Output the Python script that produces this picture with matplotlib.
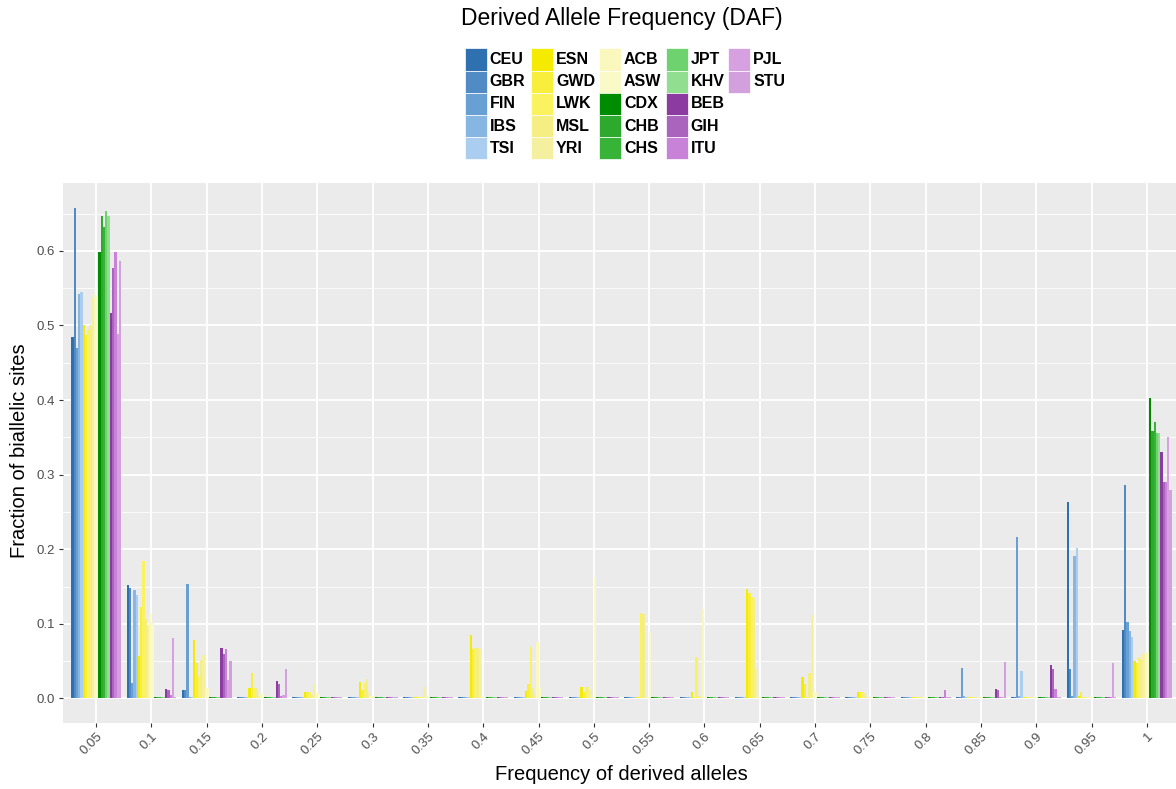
import matplotlib
matplotlib.use("Agg")
import matplotlib.pyplot as plt
from matplotlib.patches import Rectangle
from matplotlib.ticker import MultipleLocator, FormatStrFormatter
import numpy as np

plt.rcParams['font.family'] = ['Liberation Sans', 'DejaVu Sans']

# frequency bins on the x axis
bins = ["0.05", "0.1", "0.15", "0.2", "0.25", "0.3", "0.35", "0.4", "0.45", "0.5",
        "0.55", "0.6", "0.65", "0.7", "0.75", "0.8", "0.85", "0.9", "0.95", "1"]

z = 0.0015  # near-zero bars that still show as a thin line

# fraction of biallelic sites per bin, one list per population
CEU = [0.485, 0.152, 0.011, z, z, z, z, z, z, z, z, z, z, z, z, z, z, z, 0.263, 0.092]
GBR = [0.658, 0.148, 0.011, z, z, z, z, z, z, z, z, z, z, z, z, z, z, z, 0.040, 0.286]
FIN = [0.470, 0.021, 0.153, z, z, z, z, z, z, z, z, z, z, z, z, z, 0.041, 0.216, 0.003, 0.103]
IBS = [0.542, 0.145, z, z, z, z, z, z, z, z, z, z, z, z, z, z, 0.003, 0.003, 0.191, 0.090]
TSI = [0.545, 0.139, z, z, z, z, z, z, z, z, z, z, z, z, z, z, z, 0.037, 0.201, 0.083]
ESN = [0.501, 0.057, 0.078, 0.014, 0.008, 0.022, z, 0.085, 0.010, 0.015, z, 0.008, 0.147, 0.029, 0.008, z, z, z, 0.003, 0.050]
GWD = [0.487, 0.122, 0.048, 0.034, 0.008, 0.012, z, 0.066, 0.020, 0.008, z, z, 0.142, 0.020, 0.008, z, z, z, 0.008, 0.047]
LWK = [0.494, 0.184, 0.030, 0.014, 0.008, 0.021, z, 0.068, 0.069, 0.015, 0.115, 0.055, 0.136, z, 0.008, z, z, z, 0.002, 0.055]
MSL = [0.501, 0.106, 0.052, 0.014, 0.005, 0.026, z, 0.067, 0.014, 0.015, 0.113, 0.003, 0.134, 0.034, 0.007, z, z, z, z, 0.053]
YRI = [0.537, 0.099, 0.058, 0.003, 0.020, 0.008, 0.015, 0.066, 0.004, 0.012, z, 0.003, 0.040, 0.112, z, z, z, z, z, 0.060]
ACB = [0.542, 0.115, 0.014, 0.007, 0.008, 0.003, 0.005, z, 0.076, z, z, 0.120, z, 0.008, z, z, z, z, z, 0.062]
ASW = [0.540, 0.101, 0.014, 0.007, 0.006, z, z, z, 0.014, 0.163, 0.089, z, z, 0.008, z, z, z, z, z, 0.062]
CDX = [0.598, z, z, z, z, z, z, z, z, z, z, z, z, z, z, z, z, z, z, 0.403]
CHB = [0.647, z, z, z, z, z, z, z, z, z, z, z, z, z, z, z, z, z, z, 0.358]
CHS = [0.632, z, z, z, z, z, z, z, z, z, z, z, z, z, z, z, z, z, z, 0.370]
JPT = [0.654, z, z, z, z, z, z, z, z, z, z, z, z, z, z, z, z, z, z, 0.356]
KHV = [0.647, z, z, z, z, z, z, z, z, z, z, z, z, z, z, z, z, z, z, 0.356]
BEB = [0.517, 0.013, 0.067, 0.024, z, z, z, z, z, z, z, z, z, z, z, z, 0.013, 0.045, z, 0.331]
GIH = [0.577, 0.011, 0.059, 0.020, z, z, z, z, z, z, z, z, z, z, z, z, 0.011, 0.040, z, 0.290]
ITU = [0.598, 0.004, 0.066, 0.003, z, z, z, z, z, z, z, z, z, z, z, 0.011, z, 0.013, z, 0.290]
PJL = [0.489, 0.081, 0.025, 0.004, z, z, z, z, z, z, z, z, z, z, z, z, z, z, 0.048, 0.350]
STU = [0.587, 0.002, 0.050, 0.040, z, z, z, z, z, z, z, z, z, z, z, z, 0.049, z, z, 0.280]

populations = ["CEU", "GBR", "FIN", "IBS", "TSI",
               "ESN", "GWD", "LWK", "MSL", "YRI",
               "ACB", "ASW",
               "CDX", "CHB", "CHS", "JPT", "KHV",
               "BEB", "GIH", "ITU", "PJL", "STU"]
series = [CEU, GBR, FIN, IBS, TSI, ESN, GWD, LWK, MSL, YRI, ACB, ASW,
          CDX, CHB, CHS, JPT, KHV, BEB, GIH, ITU, PJL, STU]
colours = ["#2e70b0", "#508cc3", "#69a0d4", "#87b6e3", "#aacdf0",
           "#f5eb00", "#f8ee3c", "#faf25f", "#f5ee82", "#f5f0a0",
           "#faf8be", "#fafac8",
           "#008c00", "#2daa2d", "#37b437", "#6ed26e", "#91de91",
           "#8c3ca0", "#aa64be", "#c882d7", "#d7a0e1", "#d2a0dc"]

W, H = 1176, 789
fig = plt.figure(figsize=(W / 100, H / 100), dpi=100)
ax = fig.add_axes([63 / W, 1 - 723 / H, 1117 / W, 540 / H])
ax.set_facecolor("#EBEBEB")

n = len(populations)
width = 0.9 / n
x = np.arange(len(bins))
for j, (vals, col) in enumerate(zip(series, colours)):
    ax.bar(x + (j - (n - 1) / 2) * width, vals, width=width, color=col,
           linewidth=0, zorder=3)

# ggplot-like limits and grid
ymax = max(max(s) for s in series)
pad = 0.05 * ymax
ax.set_ylim(-pad, ymax + pad)
ax.set_xlim(-0.6, len(bins) - 0.4)
ax.yaxis.set_major_locator(MultipleLocator(0.1))
ax.yaxis.set_minor_locator(MultipleLocator(0.05))
ax.yaxis.set_major_formatter(FormatStrFormatter("%.1f"))
ax.set_xticks(x)
ax.set_xticklabels(bins, rotation=45, ha="right", va="top", rotation_mode="anchor")
ax.grid(which="major", color="white", linewidth=1.3, zorder=0)
ax.grid(which="minor", axis="y", color="white", linewidth=0.6, zorder=0)
ax.set_axisbelow(True)
for s in ax.spines.values():
    s.set_visible(False)
ax.tick_params(which="major", length=3, width=0.8, color="#333333",
               labelcolor="#4D4D4D", labelsize=9.5, pad=2.5)
ax.tick_params(which="minor", length=0)

fig.text(622 / W, 1 - 18 / H, "Derived Allele Frequency (DAF)", fontsize=16.5,
         ha="center", va="center")
fig.text(621 / W, 1 - 775 / H, "Frequency of derived alleles", fontsize=14.5,
         ha="center", va="center")
fig.text(20 / W, 1 - 451 / H, "Fraction of biallelic sites", fontsize=14.5,
         rotation=90, ha="center", va="center")

# legend: 5 rows, filled column by column
col_left = [464.5, 531, 599, 665.7, 728.3]
row_top = 48.5
row_step = 22.2
key = 22
for k, (name, col) in enumerate(zip(populations, colours)):
    c, r = divmod(k, 5)
    x0 = col_left[c]
    y0 = row_top + r * row_step
    fig.add_artist(Rectangle((x0 / W, 1 - (y0 + key) / H), key / W, key / H,
                             transform=fig.transFigure, facecolor=col,
                             edgecolor="white", linewidth=0.5))
    fig.text((x0 + key + 3) / W, 1 - (y0 + key / 2) / H, name, fontsize=11.5,
             fontweight="bold", ha="left", va="center")

fig.savefig("out.png", dpi=100)
